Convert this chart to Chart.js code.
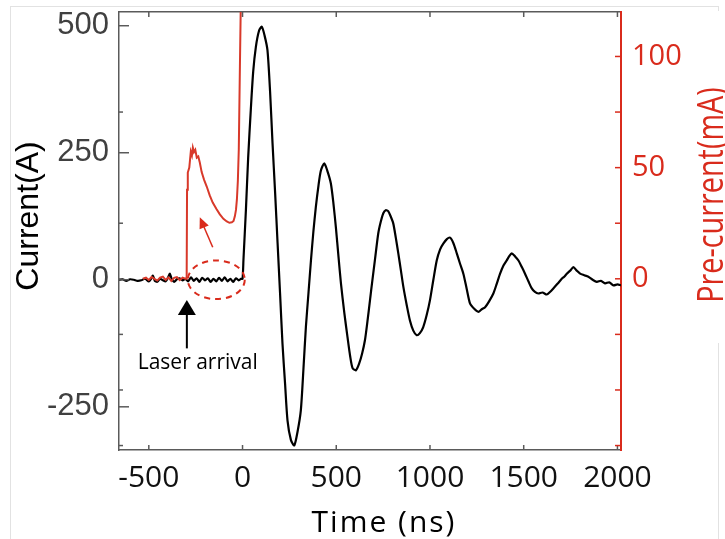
<!DOCTYPE html>
<html>
<head>
<meta charset="utf-8">
<script src="https://cdn.jsdelivr.net/npm/chart.js@4"></script>
<style>
  html, body { margin: 0; padding: 0; background: #fff; }
  #wrap { position: relative; width: 725px; height: 539px; }
  .frame { position: absolute; background: #e2e2e2; }
  canvas { position: absolute; left: 0; top: 0; }
</style>
</head>
<body>
<div id="wrap">
  <div class="frame" style="left:10px;top:6px;width:708px;height:1px"></div>
  <div class="frame" style="left:10px;top:6px;width:1px;height:533px"></div>
  <div class="frame" style="left:718px;top:6px;width:1px;height:5px"></div>
  <div class="frame" style="left:718px;top:343px;width:1px;height:196px"></div>
  <canvas id="chart" width="725" height="539"></canvas>
</div>
<script>
// ---------- data ----------
const X_TICKS = [-500, 0, 500, 1000, 1500, 2000];
const Y_TICKS = [-250, 0, 250, 500];
const Y2_LABELS = [0, 50, 100];
const Y2_MARKS = [-75, -50, -25, 0, 25, 50, 75, 100];

// black trace: current (A) vs time (ns)
const CURRENT_T = [
  -659, -640, -620, -600, -580, -560, -540, -520, -500, -488, -478, -468, -455, -440, -425,
  -410, -398, -388, -378, -365, -350, -335, -320, -305, -290, -275, -260, -245, -230, -215,
  -200, -185, -170, -155, -140, -125, -110, -95, -80, -65, -50, -35, -20, -8, 0,
  5, 18, 30, 44, 57, 71, 88, 103, 118, 133, 147, 160, 174, 187, 200, 213, 227, 240, 258, 276,
  293, 311, 325, 338, 352, 365, 378, 391, 405, 418, 436, 452, 471, 485, 498, 512, 525, 543,
  560, 574, 587, 605, 622, 638, 653, 667, 680, 693, 706, 724, 738, 751, 764, 777, 790, 804,
  818, 831, 845, 858, 876, 893, 911, 929, 946, 964, 982, 1000, 1018, 1036, 1054, 1071, 1090,
  1107, 1125, 1143, 1160, 1178, 1196, 1214, 1236, 1258, 1276, 1294, 1316, 1338, 1356, 1374,
  1392, 1409, 1422, 1436, 1454, 1472, 1490, 1507, 1525, 1543, 1560, 1578, 1600, 1623, 1640,
  1658, 1680, 1703, 1716, 1730, 1748, 1765, 1783, 1801, 1823, 1845, 1868, 1890, 1912, 1934,
  1956, 1979, 2000, 2019
];
const CURRENT_A = [
  0, 1, -2, 1, 0, -2, -1, 2, -3, 2, 8, -2, -4, 2, -1,
  -3, 4, 12, 2, -4, 1, 3, -1, 2, -3, 5, -2, 3, -4, 4,
  -1, 3, -4, 2, -3, 4, -2, 5, -3, 2, -4, 3, -1, 2, 2,
  40, 137, 240, 334, 410, 458, 490, 498, 480, 452, 370, 269, 170, 72, -25, -125, -205, -277, -315, -326,
  -300, -257, -175, -93, -25, 38, 95, 143, 185, 215, 229, 215, 190, 150, 103, 45, -7, -65,
  -113, -150, -174, -178, -165, -145, -119, -80, -40, 0, 38, 91, 115, 131, 137, 135, 125, 111,
  82, 52, 18, -14, -50, -80, -100, -109, -105, -93, -70, -40, 0, 38, 60, 71, 80,
  83, 72, 52, 32, 12, -18, -47, -57, -63, -58, -54, -42, -27, -8, 12,
  28, 38, 46, 52, 46, 38, 25, 12, -3, -17, -24, -27, -25, -29, -24,
  -17, -8, 2, 6, 12, 18, 25, 18, 12, 9, 6, 0, -4, -2, -7,
  -5, -11, -9, -11
];

// red trace: pre-current (mA) vs time (ns)
const PRE_T = [
  -532, -515, -500, -485, -470, -455, -440, -425, -410, -395, -380, -365, -350, -335, -320,
  -305, -298, -296, -292, -284, -276, -270, -265, -259, -252, -244, -236, -228, -218, -205,
  -191, -175, -159, -140, -121, -102, -84, -70, -57, -48, -41, -35, -30, -25, -20, -14, -9, -4
];
const PRE_MA = [
  0, 0.5, -0.5, 0.8, 0, -0.8, 0.5, 1, -0.5, 0.6, -1, 0.4, 0.8, -0.6, 0.5,
  0, 0, 40, 47.8, 50, 57.2, 55.5, 59, 57, 58, 54.5, 55, 52.3, 48, 44.5,
  41.5, 37.5, 34.3, 31.5, 29, 27, 25.8, 25.2, 25.4, 26, 28.1, 31, 35.7, 44, 58.1, 95.5, 125, 160
];

const X_MIN = -659, X_MAX = 2019;
const Y_MIN = -335, Y_MAX = 527;
const Y2_MIN = -77, Y2_MAX = 120;

const RED = '#d92b1c';
const AXIS_GRAY = '#5a5a5a';

// annotation positions (in data units)
const ELLIPSE = { x: -140, y: 0, rx: 152, ry: 38 };
const RED_ARROW = { x0: -159, y0: 64, x1: -228, y1: 123 };
const BLACK_ARROW = { x: -297, y0: -135, y1: -40 };
const LASER_LABEL = { x: -239, y: -176, text: 'Laser arrival' };

// ------------------ PLUGINS ------------------
function arrowHead(ctx, x0, y0, x1, y1, len, half) {
    const ang = Math.atan2(y1 - y0, x1 - x0);
    ctx.beginPath();
    ctx.moveTo(x1, y1);
    ctx.lineTo(x1 - len * Math.cos(ang) + half * Math.sin(ang), y1 - len * Math.sin(ang) - half * Math.cos(ang));
    ctx.lineTo(x1 - len * Math.cos(ang) - half * Math.sin(ang), y1 - len * Math.sin(ang) + half * Math.cos(ang));
    ctx.closePath();
    ctx.fill();
}

function fixSize(prop, size) {
    return s => {
        s[prop] = size;
        s.paddingLeft = 0; s.paddingRight = 0; s.paddingTop = 0; s.paddingBottom = 0;
    };
}

const extras = {
    id: 'extras',
    afterDatasetsDraw(chart) {
        const { ctx, scales } = chart;
        const sx = scales.x, sy = scales.y;
        ctx.save();

        // dashed ellipse
        const cx = sx.getPixelForValue(ELLIPSE.x);
        const cy = sy.getPixelForValue(ELLIPSE.y);
        const rx = Math.abs(sx.getPixelForValue(ELLIPSE.x + ELLIPSE.rx) - cx);
        const ry = Math.abs(sy.getPixelForValue(ELLIPSE.y + ELLIPSE.ry) - cy);
        ctx.strokeStyle = RED;
        ctx.lineWidth = 2;
        ctx.setLineDash([6, 5]);
        ctx.beginPath();
        ctx.ellipse(cx, cy, rx, ry, 0, 0, Math.PI * 2);
        ctx.stroke();
        ctx.setLineDash([]);

        // red arrow
        const ax0 = sx.getPixelForValue(RED_ARROW.x0), ay0 = sy.getPixelForValue(RED_ARROW.y0);
        const ax1 = sx.getPixelForValue(RED_ARROW.x1), ay1 = sy.getPixelForValue(RED_ARROW.y1);
        ctx.lineWidth = 1.5;
        ctx.beginPath();
        ctx.moveTo(ax0, ay0);
        ctx.lineTo(ax1 + (ax0 - ax1) * 0.25, ay1 + (ay0 - ay1) * 0.25);
        ctx.stroke();
        ctx.fillStyle = RED;
        arrowHead(ctx, ax0, ay0, ax1, ay1, 11, 5);

        // black arrow
        const bx = sx.getPixelForValue(BLACK_ARROW.x);
        const by0 = sy.getPixelForValue(BLACK_ARROW.y0), by1 = sy.getPixelForValue(BLACK_ARROW.y1);
        ctx.strokeStyle = '#000';
        ctx.fillStyle = '#000';
        ctx.lineWidth = 2;
        ctx.beginPath();
        ctx.moveTo(bx, by0);
        ctx.lineTo(bx, by1 + 10);
        ctx.stroke();
        arrowHead(ctx, bx, by0, bx, by1, 15, 9);

        // label
        ctx.font = '21px "Open Sans"';
        ctx.textAlign = 'center';
        ctx.textBaseline = 'alphabetic';
        ctx.fillText(LASER_LABEL.text, sx.getPixelForValue(LASER_LABEL.x), sy.getPixelForValue(LASER_LABEL.y));
        ctx.restore();
    },
    afterDraw(chart) {
        const { ctx, chartArea: a, scales } = chart;
        ctx.save();
        const line = (x0, y0, x1, y1) => { ctx.beginPath(); ctx.moveTo(x0, y0); ctx.lineTo(x1, y1); ctx.stroke(); };

        // inward tick marks
        ctx.strokeStyle = AXIS_GRAY;
        ctx.lineWidth = 1.5;
        X_TICKS.forEach(v => {
            const px = scales.x.getPixelForValue(v);
            line(px, a.bottom, px, a.bottom - 5);
            line(px, a.top, px, a.top + 5);
        });
        Y_TICKS.forEach(v => {
            const py = scales.y.getPixelForValue(v);
            line(a.left, py, a.left + 10, py);
        });
        Y2_MARKS.forEach(v => {
            if (v === 0 || v === 50 || v === 100) return;
            const py = scales.y2.getPixelForValue(v);
            line(a.left, py, a.left + 4, py);
        });
        ctx.strokeStyle = RED;
        Y2_MARKS.forEach(v => {
            const py = scales.y2.getPixelForValue(v);
            line(a.right, py, a.right - 6, py);
        });

        // axis titles
        ctx.fillStyle = '#000';
        ctx.textAlign = 'center';
        ctx.textBaseline = 'alphabetic';
        ctx.font = '32px "Liberation Sans"';
        ctx.save();
        ctx.translate(38, 216);
        ctx.rotate(-Math.PI / 2);
        ctx.fillText('Current(A)', 0, 0);
        ctx.restore();

        ctx.font = '30px "Open Sans"';
        ctx.letterSpacing = '2px';
        ctx.fillText('Time (ns)', 384, 532);
        ctx.letterSpacing = '0px';

        // red title, narrow like the original
        ctx.fillStyle = RED;
        ctx.font = '36px "Open Sans"';
        ctx.save();
        ctx.translate(723, 195);
        ctx.rotate(-Math.PI / 2);
        ctx.scale(0.8, 1);
        ctx.fillText('Pre-current(mA)', 0, 0);
        ctx.restore();
        ctx.restore();
    }
};

// ------------------ CHART ------------------
const plain = v => String(v);
const ctx = document.getElementById('chart').getContext('2d');
new Chart(ctx, {
    type: 'line',
    data: {
        datasets: [
            {
                label: 'Pre-current',
                data: PRE_T.map((t, i) => ({ x: t, y: PRE_MA[i] })),
                yAxisID: 'y2',
                borderColor: '#d8392a',
                borderWidth: 2,
                pointRadius: 0,
                tension: 0,
                order: 0
            },
            {
                label: 'Current',
                data: CURRENT_T.map((t, i) => ({ x: t, y: CURRENT_A[i] })),
                yAxisID: 'y',
                borderColor: '#000',
                borderWidth: 2.2,
                pointRadius: 0,
                tension: 0.25,
                order: 1
            }
        ]
    },
    options: {
        responsive: false,
        animation: false,
        layout: { padding: 0 },
        plugins: { legend: { display: false }, tooltip: { enabled: false } },
        scales: {
            x: {
                type: 'linear', position: 'bottom', min: X_MIN, max: X_MAX,
                afterBuildTicks: s => { s.ticks = X_TICKS.map(v => ({ value: v })); },
                afterFit: fixSize('height', 89),
                grid: { drawOnChartArea: false, drawTicks: false },
                border: { color: AXIS_GRAY, width: 1.5 },
                ticks: { color: '#111', font: { family: 'Open Sans', size: 30 }, padding: 10, maxRotation: 0, autoSkip: false, callback: plain }
            },
            xTop: {
                type: 'linear', position: 'top', min: X_MIN, max: X_MAX,
                afterFit: fixSize('height', 12),
                grid: { drawOnChartArea: false, drawTicks: false },
                border: { color: AXIS_GRAY, width: 1.5 },
                ticks: { display: false }
            },
            y: {
                type: 'linear', position: 'left', min: Y_MIN, max: Y_MAX,
                afterBuildTicks: s => { s.ticks = Y_TICKS.map(v => ({ value: v })); },
                afterFit: fixSize('width', 119),
                grid: { drawOnChartArea: false, drawTicks: false },
                border: { color: AXIS_GRAY, width: 1.5 },
                ticks: { color: '#404040', font: { family: 'Liberation Sans', size: 31 }, padding: 10, callback: plain }
            },
            y2: {
                type: 'linear', position: 'right', min: Y2_MIN, max: Y2_MAX,
                afterBuildTicks: s => { s.ticks = Y2_LABELS.map(v => ({ value: v })); },
                afterFit: fixSize('width', 104),
                grid: { drawOnChartArea: false, drawTicks: false },
                border: { color: RED, width: 2 },
                ticks: { color: RED, font: { family: 'Open Sans', size: 29 }, padding: 11, callback: plain }
            }
        }
    },
    plugins: [extras]
});
</script>
</body>
</html>
